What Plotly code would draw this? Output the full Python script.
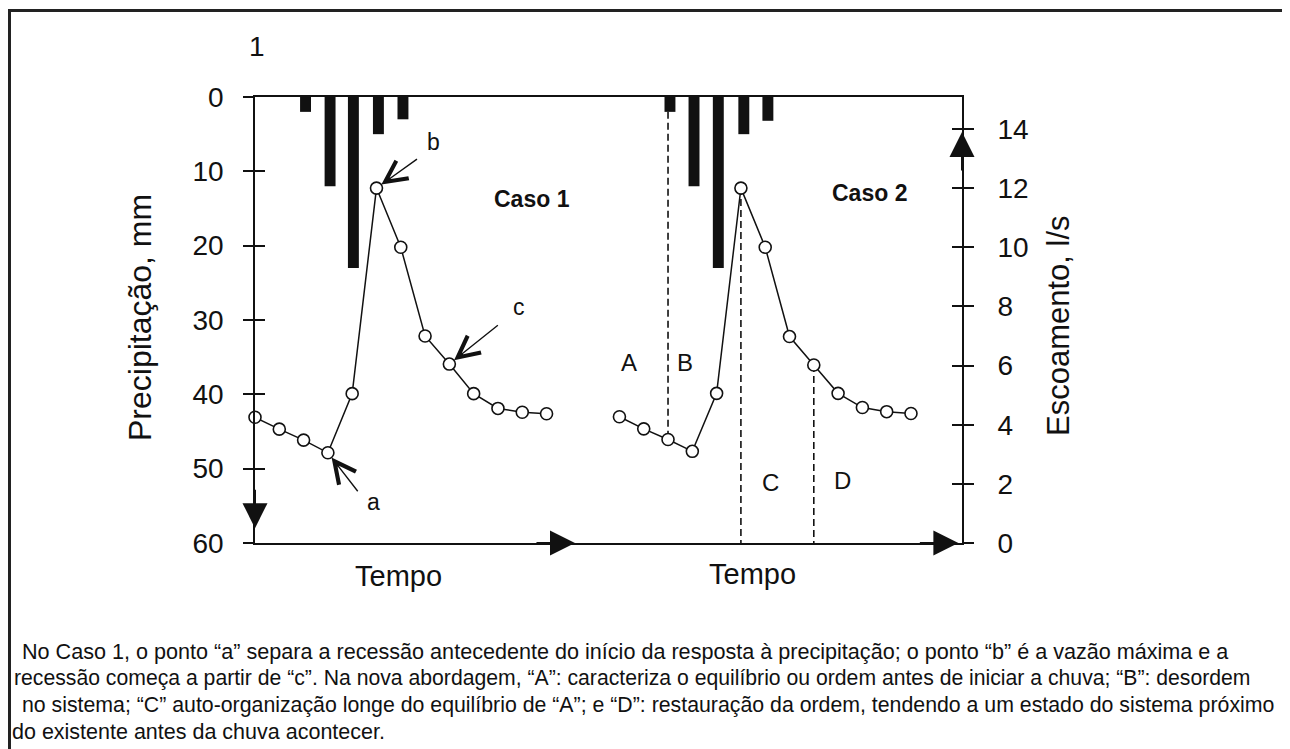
import plotly.graph_objects as go

# ---------------- data ----------------
case1_t = [0, 1, 2, 3, 4, 5, 6, 7, 8, 9, 10, 11, 12]
case1_runoff = [4.25, 3.85, 3.48, 3.05, 5.05, 12.0, 10.0, 7.0, 6.05, 5.05, 4.55, 4.42, 4.37]
case2_t = [15, 16, 17, 18, 19, 20, 21, 22, 23, 24, 25, 26, 27]
case2_runoff = [4.27, 3.86, 3.5, 3.1, 5.06, 12.0, 10.0, 6.98, 6.02, 5.06, 4.58, 4.44, 4.38]

case1_rain_t = [2.08, 3.09, 4.05, 5.08, 6.09]
case1_rain = [2, 12, 23, 5, 3]
case2_rain_t = [17.08, 18.07, 19.07, 20.12, 21.11]
case2_rain = [2, 12, 23, 5, 3.2]

precip_ticks = [0, 10, 20, 30, 40, 50, 60]
runoff_ticks = [0, 2, 4, 6, 8, 10, 12, 14]

# indices of case-2 points where the dashed separators stand
sep_idx = [2, 5, 8]
region_labels = ["A", "B", "C", "D"]
point_labels = ["a", "b", "c"]
point_label_idx = [3, 5, 8]
case_titles = ["Caso 1", "Caso 2"]
x_title = "Tempo"
y_title = "Precipitação, mm"
y2_title = "Escoamento, l/s"
panel_number = "1"
caption_lines = [
    " No Caso 1, o ponto \u201ca\u201d separa a recessão antecedente do início da resposta à precipitação; o ponto \u201cb\u201d é a vazão máxima e a",
    "recessão começa a partir de \u201cc\u201d. Na nova abordagem, \u201cA\u201d: caracteriza o equilíbrio ou ordem antes de iniciar a chuva; \u201cB\u201d: desordem",
    " no sistema; \u201cC\u201d auto-organização longe do equilíbrio de \u201cA\u201d; e \u201cD\u201d: restauração da ordem, tendendo a um estado do sistema próximo",
    "do existente antes da chuva acontecer.",
]

# ---------------- layout geometry (reference pixels) ----------------
VIEW_W, VIEW_H = 1290, 749
OFF = 8                      # page body margin
W, H = VIEW_W - OFF, VIEW_H - OFF
PL, PR, PT, PB = 255, 962, 97, 543
X_RANGE = [0, 29.1]
P_RANGE = [60, 0]
R_MAX = 15.08
R_RANGE = [0, R_MAX]


def fx(px):
    return (px - PL) / (PR - PL)


def fy(py):
    return (PB - py) / (PB - PT)


def precip_to_runoff(p):
    return R_MAX * (1 - p / 60.0)


FONT = "Liberation Sans, Arial, sans-serif"
BLACK = "#111111"

fig = go.Figure()

# rainfall bars (hanging from the top)
for tt, vals in ((case1_rain_t, case1_rain), (case2_rain_t, case2_rain)):
    fig.add_trace(go.Bar(x=tt, y=vals, width=0.45, marker=dict(color=BLACK, line=dict(width=0)),
                         yaxis="y", xaxis="x", showlegend=False, hoverinfo="skip"))

# dashed separators in Caso 2
DASH = dict(color=BLACK, width=1.6, dash="7px,4px")
top_first = precip_to_runoff(case2_rain[0])
i0, i1, i2 = sep_idx
fig.add_trace(go.Scatter(x=[case2_t[i0], case2_t[i0]], y=[top_first, case2_runoff[i0]],
                         mode="lines", line=DASH, yaxis="y2", showlegend=False, hoverinfo="skip"))
for i in (i1, i2):
    fig.add_trace(go.Scatter(x=[case2_t[i], case2_t[i]], y=[case2_runoff[i], 0],
                             mode="lines", line=DASH, yaxis="y2", showlegend=False, hoverinfo="skip"))

# runoff hydrographs
for tt, vals in ((case1_t, case1_runoff), (case2_t, case2_runoff)):
    fig.add_trace(go.Scatter(x=tt, y=vals, mode="lines+markers", yaxis="y2",
                             line=dict(color=BLACK, width=1.5),
                             marker=dict(symbol="circle", size=12, color="white",
                                         line=dict(color=BLACK, width=1.6)),
                             cliponaxis=False, showlegend=False, hoverinfo="skip"))

annotations = []


def paper_text(text, px, py, size, angle=0, bold=False):
    return dict(xref="paper", yref="paper", x=fx(px), y=fy(py),
                xanchor="center", yanchor="middle", text=("<b>%s</b>" % text) if bold else text,
                textangle=angle, showarrow=False, font=dict(family=FONT, size=size, color=BLACK))


# panel number
annotations.append(paper_text(panel_number, 257, 47, 28))
# axis titles
annotations.append(paper_text(y_title, 140, 318, 32, angle=-90))
annotations.append(paper_text(y2_title, 1058, 326, 31, angle=-90))
# Tempo labels
annotations.append(paper_text(x_title, 398, 576, 29))
annotations.append(paper_text(x_title, 752, 574, 29))

# Caso titles
annotations.append(dict(xref="x", yref="y2", x=11.4, y=11.63, text="<b>%s</b>" % case_titles[0],
                        showarrow=False, font=dict(family=FONT, size=23, color=BLACK)))
annotations.append(dict(xref="x", yref="y2", x=25.3, y=11.83, text="<b>%s</b>" % case_titles[1],
                        showarrow=False, font=dict(family=FONT, size=23, color=BLACK)))

# point arrows a, b, c (open arrowheads)
arrow_offsets = [(31, 40), (42, -30), (50, -40)]
label_pos = [(4.86, 1.39), (7.33, 13.56), (10.86, 7.97)]
for k, idx in enumerate(point_label_idx):
    ax_, ay_ = arrow_offsets[k]
    annotations.append(dict(xref="x", yref="y2", x=case1_t[idx], y=case1_runoff[idx], text="",
                            showarrow=True, arrowhead=5, arrowsize=3.0, arrowwidth=1.4,
                            arrowcolor=BLACK, standoff=6, ax=ax_, ay=ay_))
    annotations.append(dict(xref="x", yref="y2", x=label_pos[k][0], y=label_pos[k][1],
                            text=point_labels[k], showarrow=False,
                            font=dict(family=FONT, size=23, color=BLACK)))

# region labels A B C D
region_pos = [(15.4, 6.1), (17.7, 6.1), (21.2, 2.03), (24.2, 2.12)]
for lab, (xx, yy) in zip(region_labels, region_pos):
    annotations.append(dict(xref="x", yref="y2", x=xx, y=yy, text=lab, showarrow=False,
                            font=dict(family=FONT, size=24, color=BLACK)))

# axis arrowheads (filled)
axis_arrows = [
    dict(xref="x", yref="y", x=0, y=58.0, ax=0, ay=-40),
    dict(xref="x", yref="y2", x=X_RANGE[1], y=13.9, ax=0, ay=40),
    dict(xref="x", yref="y2", x=13.17, y=0, ax=-40, ay=0),
    dict(xref="x", yref="y2", x=28.95, y=0, ax=-40, ay=0),
]
for a in axis_arrows:
    a.update(text="", showarrow=True, arrowhead=2, arrowsize=2.5, arrowwidth=2,
             arrowcolor=BLACK, standoff=0)
    annotations.append(a)

# caption
cap_y = [651, 678, 705, 732]
cap_x = [14, 12, 14, 10]
cap_size = [21.6, 21.2, 21.3, 21.5]
for line, yy, xx, sz in zip(caption_lines, cap_y, cap_x, cap_size):
    annotations.append(dict(xref="paper", yref="paper", x=fx(xx), y=fy(yy), text=line,
                            xanchor="left", yanchor="middle", showarrow=False,
                            font=dict(family=FONT, size=sz, color=BLACK)))

# outer frame (left and top edges)
shapes = [
    dict(type="line", xref="paper", yref="paper", x0=fx(9.5), x1=fx(9.5), y0=fy(9), y1=fy(VIEW_H + 5),
         line=dict(color="#222222", width=3)),
    dict(type="line", xref="paper", yref="paper", x0=fx(8), x1=fx(VIEW_W + 5), y0=fy(10.5), y1=fy(10.5),
         line=dict(color="#222222", width=3)),
]

axis_common = dict(showgrid=False, zeroline=False, linecolor=BLACK, linewidth=1.6,
                   tickcolor=BLACK, tickwidth=1.6, ticklen=10,
                   tickfont=dict(family=FONT, size=28, color=BLACK))

fig.update_layout(
    width=W, height=H,
    margin=dict(l=PL - OFF, r=VIEW_W - PR, t=PT - OFF, b=VIEW_H - PB, pad=0),
    paper_bgcolor="white", plot_bgcolor="white",
    showlegend=False, barmode="overlay",
    xaxis=dict(range=X_RANGE, showline=True, mirror=True, linecolor=BLACK, linewidth=2,
               showticklabels=False, ticks="", showgrid=False, zeroline=False),
    yaxis=dict(range=P_RANGE, side="left", showline=True, ticks="outside",
               tickvals=precip_ticks, ticktext=[str(v) for v in precip_ticks],
               ticklabelstandoff=14, **axis_common),
    yaxis3=dict(range=P_RANGE, overlaying="y", side="left", showline=False, ticks="inside",
                tickvals=precip_ticks[1:-1], showticklabels=False, showgrid=False, zeroline=False,
                tickcolor=BLACK, tickwidth=1.6, ticklen=10),
    yaxis2=dict(range=R_RANGE, overlaying="y", side="right", showline=True, ticks="outside",
                tickvals=runoff_ticks, ticktext=[str(v) for v in runoff_ticks],
                ticklabelstandoff=18, **axis_common),
    yaxis4=dict(range=R_RANGE, overlaying="y", side="right", showline=False, ticks="inside",
                tickvals=runoff_ticks[1:], showticklabels=False, showgrid=False, zeroline=False,
                tickcolor=BLACK, tickwidth=1.6, ticklen=10),
    annotations=annotations,
    shapes=shapes,
)

# dummy traces to activate the tick-only overlay axes
fig.add_trace(go.Scatter(x=[None], y=[None], yaxis="y3", showlegend=False, hoverinfo="skip"))
fig.add_trace(go.Scatter(x=[None], y=[None], yaxis="y4", showlegend=False, hoverinfo="skip"))

fig.write_html("out.html")
